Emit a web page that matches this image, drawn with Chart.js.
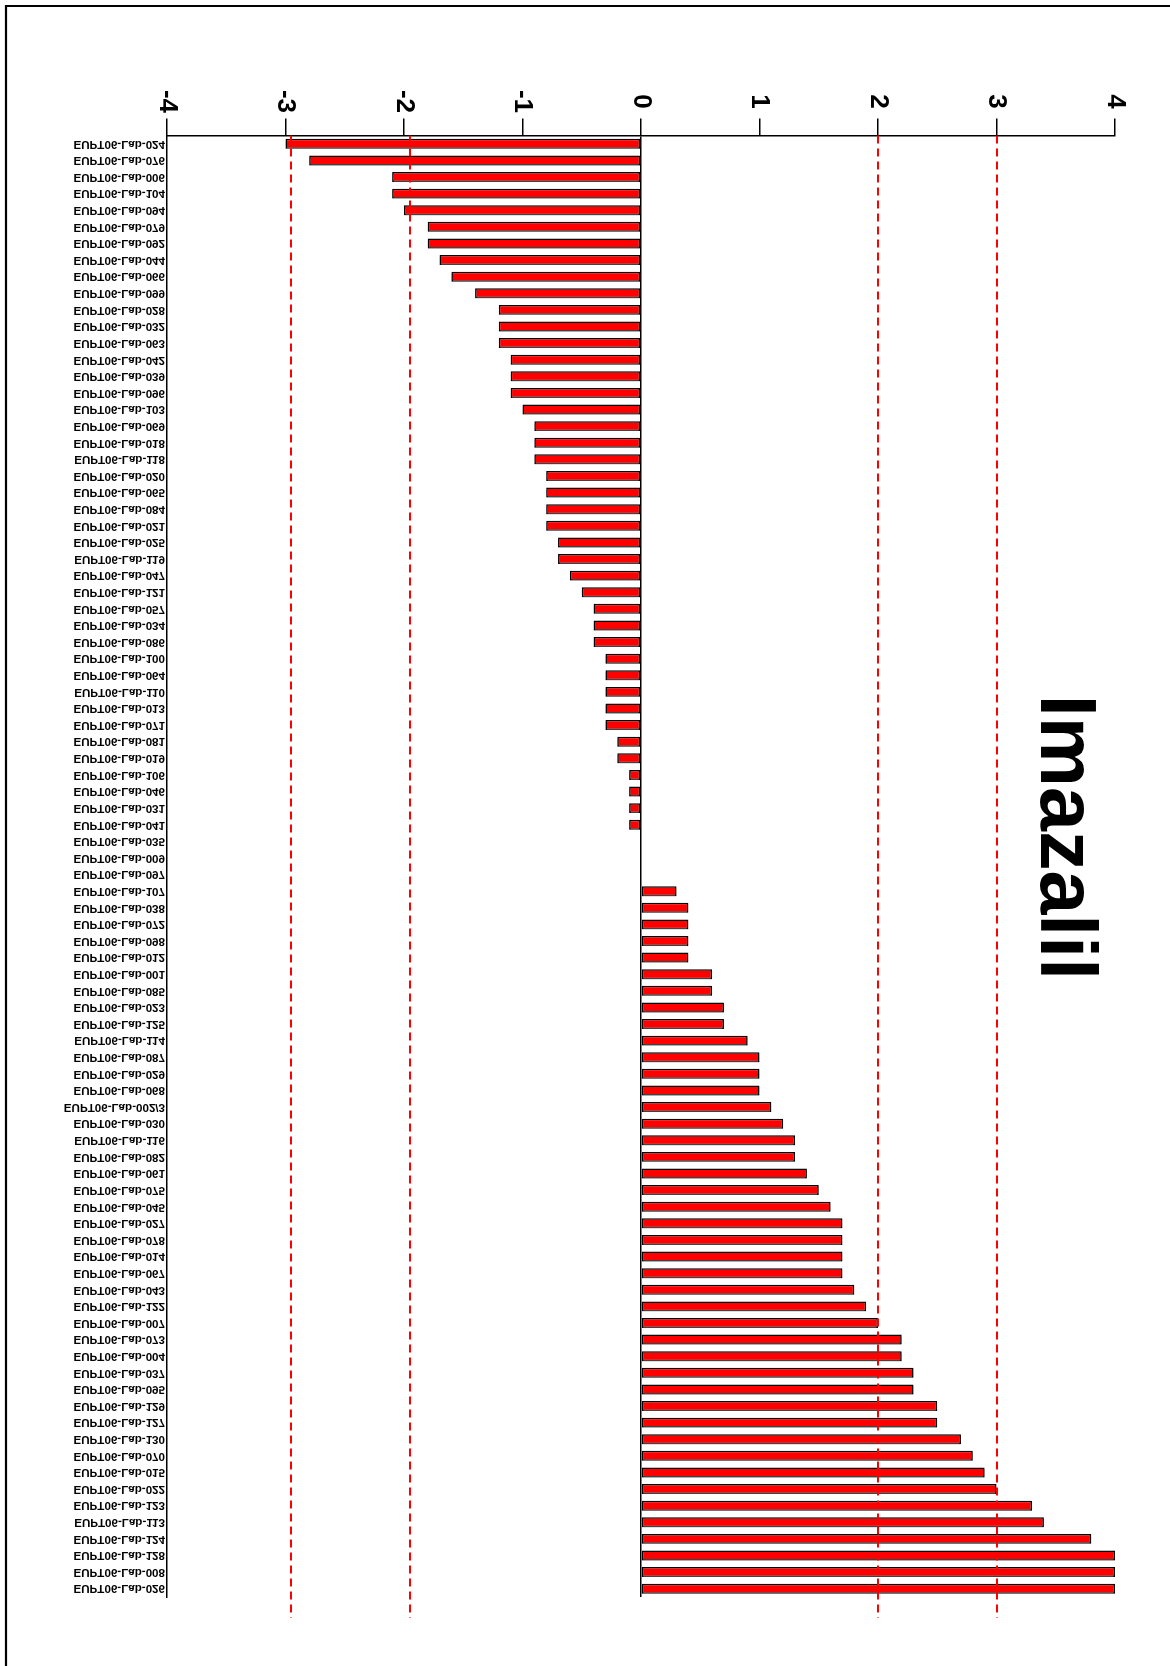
<!DOCTYPE html>
<html>
<head>
<meta charset="utf-8">
<title>Imazalil</title>
<script src="https://cdn.jsdelivr.net/npm/chart.js@4/dist/chart.umd.min.js"></script>
<style>
  html, body { margin: 0; padding: 0; background: #fff; overflow: hidden; }
  canvas { display: block; }
</style>
</head>
<body>
<canvas id="chart" width="1170" height="1666"></canvas>
<script>
// Laboratory codes, sorted by z-score
const labCodes = [
  'EUPT06-Lab-024', 'EUPT06-Lab-076', 'EUPT06-Lab-006', 'EUPT06-Lab-104', 'EUPT06-Lab-094',
  'EUPT06-Lab-079', 'EUPT06-Lab-092', 'EUPT06-Lab-044', 'EUPT06-Lab-066', 'EUPT06-Lab-099',
  'EUPT06-Lab-028', 'EUPT06-Lab-032', 'EUPT06-Lab-063', 'EUPT06-Lab-042', 'EUPT06-Lab-039',
  'EUPT06-Lab-096', 'EUPT06-Lab-103', 'EUPT06-Lab-069', 'EUPT06-Lab-018', 'EUPT06-Lab-118',
  'EUPT06-Lab-020', 'EUPT06-Lab-065', 'EUPT06-Lab-084', 'EUPT06-Lab-021', 'EUPT06-Lab-025',
  'EUPT06-Lab-119', 'EUPT06-Lab-047', 'EUPT06-Lab-121', 'EUPT06-Lab-057', 'EUPT06-Lab-034',
  'EUPT06-Lab-086', 'EUPT06-Lab-100', 'EUPT06-Lab-064', 'EUPT06-Lab-110', 'EUPT06-Lab-013',
  'EUPT06-Lab-071', 'EUPT06-Lab-081', 'EUPT06-Lab-019', 'EUPT06-Lab-106', 'EUPT06-Lab-046',
  'EUPT06-Lab-031', 'EUPT06-Lab-041', 'EUPT06-Lab-035', 'EUPT06-Lab-009', 'EUPT06-Lab-097',
  'EUPT06-Lab-107', 'EUPT06-Lab-038', 'EUPT06-Lab-072', 'EUPT06-Lab-098', 'EUPT06-Lab-012',
  'EUPT06-Lab-001', 'EUPT06-Lab-085', 'EUPT06-Lab-023', 'EUPT06-Lab-125', 'EUPT06-Lab-114',
  'EUPT06-Lab-087', 'EUPT06-Lab-029', 'EUPT06-Lab-068', 'EUPT06-Lab-002/3', 'EUPT06-Lab-030',
  'EUPT06-Lab-116', 'EUPT06-Lab-082', 'EUPT06-Lab-061', 'EUPT06-Lab-075', 'EUPT06-Lab-045',
  'EUPT06-Lab-027', 'EUPT06-Lab-078', 'EUPT06-Lab-014', 'EUPT06-Lab-067', 'EUPT06-Lab-043',
  'EUPT06-Lab-122', 'EUPT06-Lab-007', 'EUPT06-Lab-073', 'EUPT06-Lab-004', 'EUPT06-Lab-037',
  'EUPT06-Lab-095', 'EUPT06-Lab-129', 'EUPT06-Lab-127', 'EUPT06-Lab-130', 'EUPT06-Lab-070',
  'EUPT06-Lab-015', 'EUPT06-Lab-022', 'EUPT06-Lab-123', 'EUPT06-Lab-113', 'EUPT06-Lab-124',
  'EUPT06-Lab-128', 'EUPT06-Lab-008', 'EUPT06-Lab-026'
];

// z-scores, one per laboratory
const zScores = [
  -3.0, -2.8, -2.1, -2.1, -2.0,
  -1.8, -1.8, -1.7, -1.6, -1.4,
  -1.2, -1.2, -1.2, -1.1, -1.1,
  -1.1, -1.0, -0.9, -0.9, -0.9,
  -0.8, -0.8, -0.8, -0.8, -0.7,
  -0.7, -0.6, -0.5, -0.4, -0.4,
  -0.4, -0.3, -0.3, -0.3, -0.3,
  -0.3, -0.2, -0.2, -0.1, -0.1,
  -0.1, -0.1, 0.0, 0.0, 0.0,
  0.3, 0.4, 0.4, 0.4, 0.4,
  0.6, 0.6, 0.7, 0.7, 0.9,
  1.0, 1.0, 1.0, 1.1, 1.2,
  1.3, 1.3, 1.4, 1.5, 1.6,
  1.7, 1.7, 1.7, 1.7, 1.8,
  1.9, 2.0, 2.2, 2.2, 2.3,
  2.3, 2.5, 2.5, 2.7, 2.8,
  2.9, 3.0, 3.3, 3.4, 3.8,
  4.0, 4.0, 4.0
];

// value axis tick labels and the dashed limit lines (as placed on the plot)
const tickValues = [-4, -3, -2, -1, 0, 1, 2, 3, 4];
const limitLines = [-2.95, -1.95, 2, 3];
const chartTitle = 'Imazalil';

const FONT = '"Liberation Sans", Arial, sans-serif';

const decorations = {
  id: 'decorations',
  beforeDatasetsDraw(chart) {
    const ctx = chart.ctx;
    ctx.save();
    ctx.shadowColor = 'rgba(120,120,120,0.55)';
    ctx.shadowOffsetX = 0;
    ctx.shadowOffsetY = 2;
    ctx.shadowBlur = 0;
  },
  afterDatasetsDraw(chart) {
    const ctx = chart.ctx;
    ctx.restore();
    const { chartArea, scales: { x } } = chart;
    ctx.save();
    ctx.strokeStyle = '#ff0000';
    ctx.lineWidth = 2;
    ctx.setLineDash([8, 5]);
    limitLines.forEach(v => {
      const px = Math.round(x.getPixelForValue(v));
      ctx.beginPath();
      ctx.moveTo(px, chartArea.top);
      ctx.lineTo(px, chartArea.bottom + 21);
      ctx.stroke();
    });
    ctx.restore();
  },
  afterDraw(chart) {
    const { ctx, chartArea, scales: { x, y } } = chart;
    ctx.save();

    // page frame
    ctx.strokeStyle = '#000';
    ctx.lineWidth = 2.2;
    ctx.beginPath();
    ctx.moveTo(6, chart.height);
    ctx.lineTo(6, 6);
    ctx.lineTo(chart.width, 6);
    ctx.stroke();

    ctx.fillStyle = '#000';

    // value tick labels, turned a quarter clockwise
    ctx.font = 'bold 26px ' + FONT;
    ctx.textAlign = 'center';
    ctx.textBaseline = 'middle';
    tickValues.forEach(v => {
      const px = x.getPixelForValue(v);
      ctx.save();
      ctx.translate(px, chartArea.top - 34);
      ctx.rotate(Math.PI / 2);
      ctx.fillText(String(v), 0, 0);
      ctx.restore();
    });

    // laboratory labels, mirrored top to bottom
    ctx.font = 'bold 11.6px ' + FONT;
    ctx.textAlign = 'right';
    ctx.textBaseline = 'middle';
    labCodes.forEach((lab, i) => {
      const py = y.getPixelForTick(i);
      ctx.save();
      ctx.translate(chartArea.left - 2, py);
      ctx.scale(1, -1);
      ctx.fillText(lab, 0, 0);
      ctx.restore();
    });

    // title
    ctx.font = 'bold 79px ' + FONT;
    ctx.textAlign = 'center';
    ctx.textBaseline = 'middle';
    ctx.save();
    ctx.translate(chartArea.right - 52, chartArea.top + 702);
    ctx.rotate(Math.PI / 2);
    ctx.fillText(chartTitle, 0, 0);
    ctx.restore();

    ctx.restore();
  }
};

new Chart(document.getElementById('chart'), {
  type: 'bar',
  data: {
    labels: labCodes,
    datasets: [{
      data: zScores,
      backgroundColor: '#ff0000',
      borderColor: '#000000',
      borderWidth: 1.5,
      borderSkipped: false,
      barPercentage: 0.6,
      categoryPercentage: 1
    }]
  },
  options: {
    indexAxis: 'y',
    responsive: false,
    animation: false,
    devicePixelRatio: 1,
    layout: { padding: { left: 167, top: 118.5, right: 55, bottom: 69 } },
    plugins: {
      legend: { display: false },
      tooltip: { enabled: false },
      title: { display: false }
    },
    scales: {
      x: {
        position: 'top',
        min: -4,
        max: 4,
        afterBuildTicks: scale => { scale.ticks = tickValues.map(v => ({ value: v })); },
        ticks: { display: false },
        grid: {
          color: c => (c.tick && c.tick.value === 0 ? '#000' : 'rgba(0,0,0,0)'),
          lineWidth: 1.5,
          tickColor: '#000',
          tickWidth: 1.5,
          tickLength: 17,
          drawTicks: true
        },
        border: { display: true, color: '#000', width: 1.5 }
      },
      y: {
        ticks: { display: false },
        grid: { display: false, drawTicks: false },
        border: { display: true, color: '#000', width: 1.5 }
      }
    }
  },
  plugins: [decorations]
});
</script>
</body>
</html>
